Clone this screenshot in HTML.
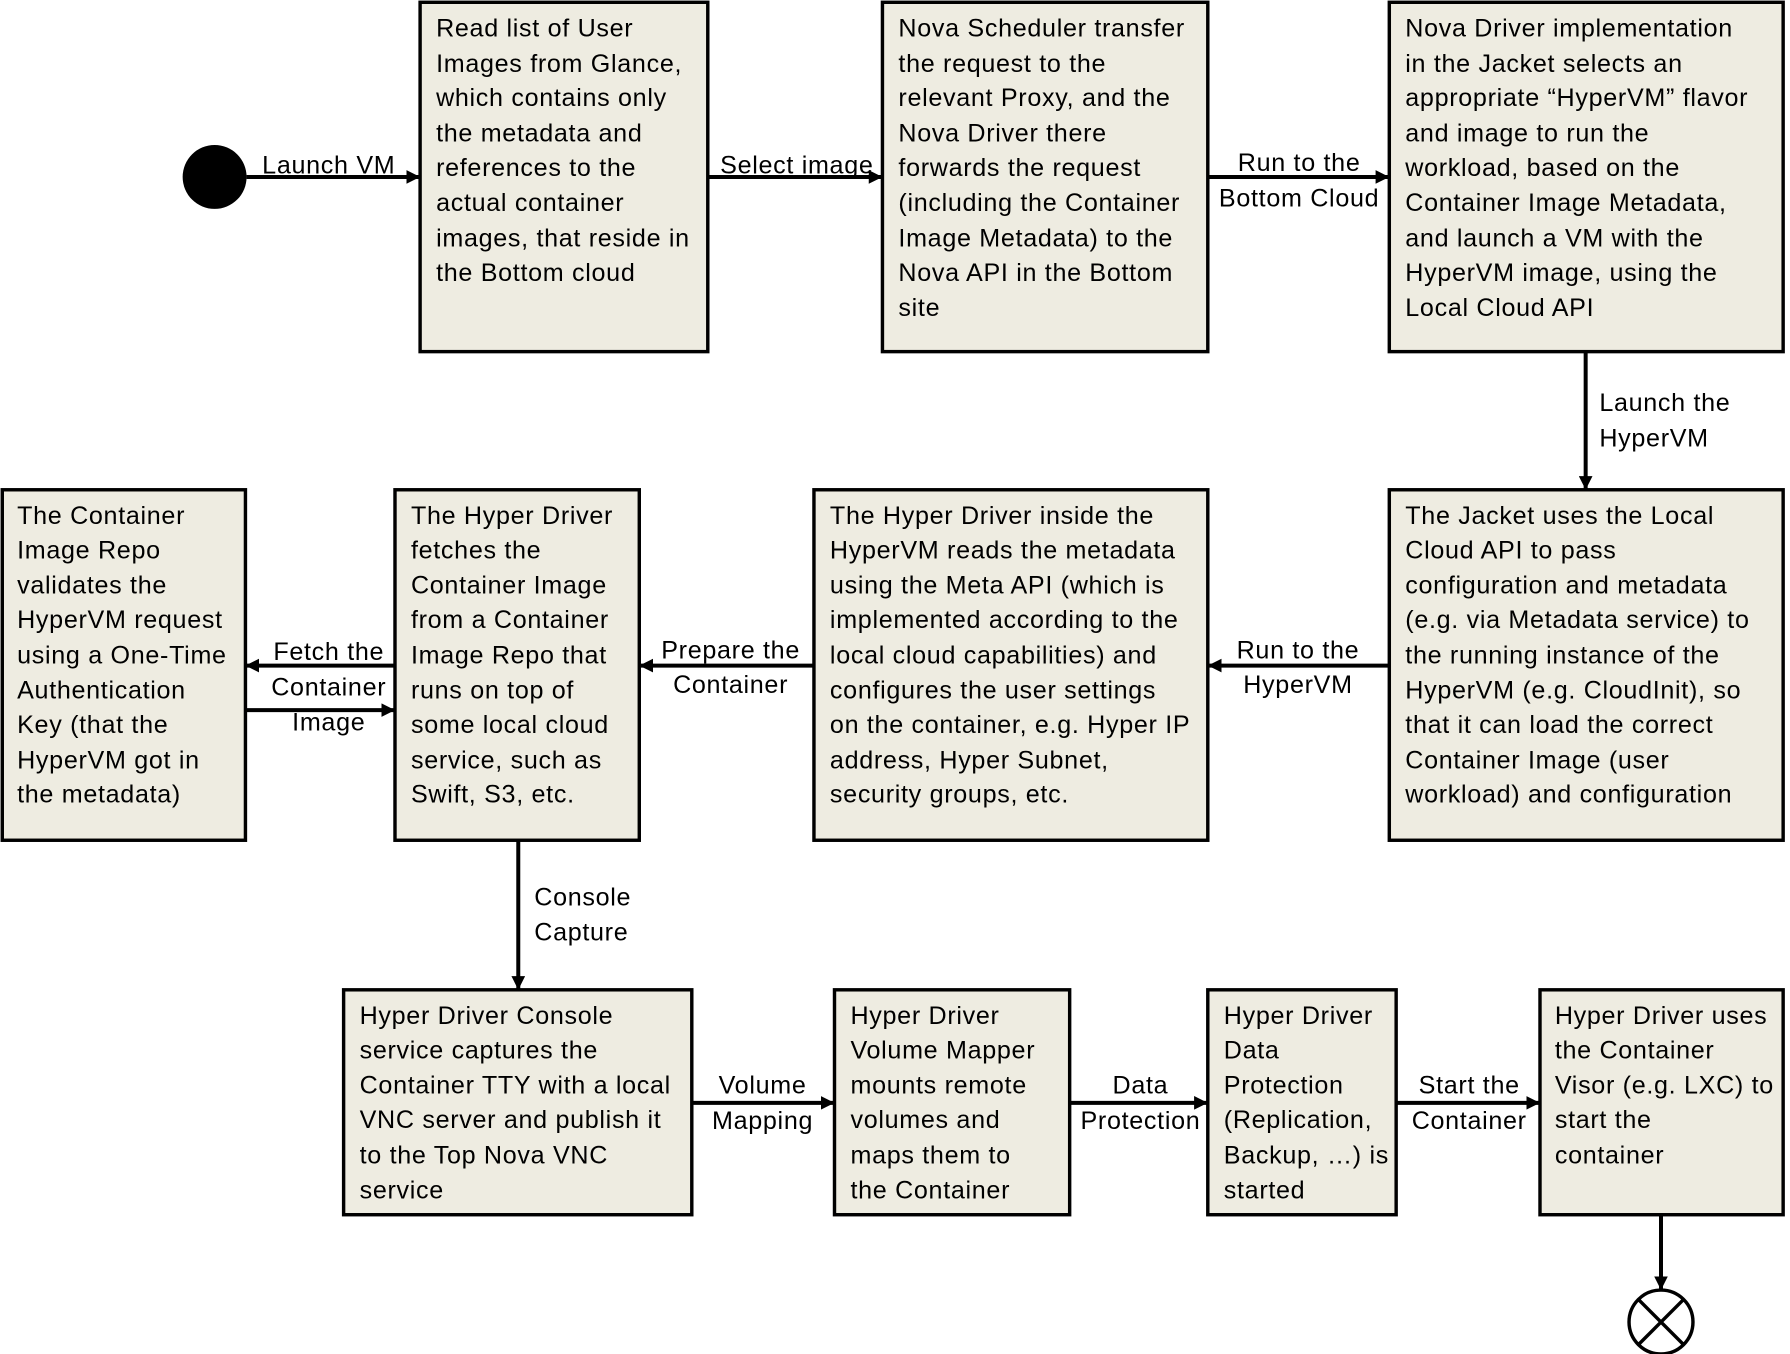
<!DOCTYPE html>
<html><head><meta charset="utf-8"><style>
html,body{margin:0;padding:0;background:#fff;}
svg{display:block;}
text{font-family:"Liberation Sans",sans-serif;font-size:22px;letter-spacing:0.6px;fill:#000;}
.b{fill:#EEECE1;stroke:#000;stroke-width:3;}
.l{stroke:#000;stroke-width:3.5;fill:none;}
.c{text-anchor:middle;}
</style></head><body>
<svg width="1790" height="1354" viewBox="0 0 1568 1186" preserveAspectRatio="none" xmlns="http://www.w3.org/2000/svg">
<defs>
<marker id="a2" markerWidth="12" markerHeight="12" refX="11" refY="6" orient="auto" markerUnits="userSpaceOnUse"><path d="M0,0 L12,6 L0,12 z" fill="#000"/></marker></defs>

<rect class="b" x="368" y="2" width="252" height="306"/>
<rect class="b" x="773" y="2" width="285" height="306"/>
<rect class="b" x="1217" y="2" width="345" height="306"/>
<rect class="b" x="1217" y="429" width="345" height="307"/>
<rect class="b" x="713" y="429" width="345" height="307"/>
<rect class="b" x="346" y="429" width="214" height="307"/>
<rect class="b" x="2" y="429" width="213" height="307"/>
<rect class="b" x="301" y="867" width="305" height="197"/>
<rect class="b" x="731" y="867" width="206" height="197"/>
<rect class="b" x="1058" y="867" width="165" height="197"/>
<rect class="b" x="1349" y="867" width="213" height="197"/>

<circle cx="188" cy="155" r="28" fill="#000"/>
<circle cx="1455" cy="1158" r="28" fill="#fff" stroke="#000" stroke-width="3"/>
<line class="l" x1="1435" y1="1138" x2="1475" y2="1178" style="stroke-width:3"/>
<line class="l" x1="1475" y1="1138" x2="1435" y2="1178" style="stroke-width:3"/>

<line class="l" x1="216" y1="155" x2="367" y2="155" marker-end="url(#a2)"/>
<line class="l" x1="620" y1="155" x2="772" y2="155" marker-end="url(#a2)"/>
<line class="l" x1="1058" y1="155" x2="1216" y2="155" marker-end="url(#a2)"/>
<line class="l" x1="1389" y1="308" x2="1389" y2="428" marker-end="url(#a2)"/>
<line class="l" x1="1217" y1="583" x2="1059" y2="583" marker-end="url(#a2)"/>
<line class="l" x1="713" y1="583" x2="561" y2="583" marker-end="url(#a2)"/>
<line class="l" x1="346" y1="583" x2="216" y2="583" marker-end="url(#a2)"/>
<line class="l" x1="215" y1="622" x2="345" y2="622" marker-end="url(#a2)"/>
<line class="l" x1="454" y1="736" x2="454" y2="866" marker-end="url(#a2)"/>
<line class="l" x1="606" y1="966" x2="730" y2="966" marker-end="url(#a2)"/>
<line class="l" x1="937" y1="966" x2="1057" y2="966" marker-end="url(#a2)"/>
<line class="l" x1="1223" y1="966" x2="1348" y2="966" marker-end="url(#a2)"/>
<line class="l" x1="1455" y1="1064" x2="1455" y2="1129" marker-end="url(#a2)"/>

<text class="c" x="288" y="152">Launch VM</text>
<text class="c" x="698" y="152">Select image</text>
<text class="c" x="1138" y="150">Run to the</text>
<text class="c" x="1138" y="181">Bottom Cloud</text>
<text x="1401" y="360">Launch the</text>
<text x="1401" y="391">HyperVM</text>
<text class="c" x="1137" y="577">Run to the</text>
<text class="c" x="1137" y="607">HyperVM</text>
<text class="c" x="640" y="577">Prepare the</text>
<text class="c" x="640" y="607">Container</text>
<text class="c" x="288" y="578">Fetch the</text>
<text class="c" x="288" y="609">Container</text>
<text class="c" x="288" y="640">Image</text>
<text x="468" y="793">Console</text>
<text x="468" y="824">Capture</text>
<text class="c" x="668" y="958">Volume</text>
<text class="c" x="668" y="989">Mapping</text>
<text class="c" x="999" y="958">Data</text>
<text class="c" x="999" y="989">Protection</text>
<text class="c" x="1287" y="958">Start the</text>
<text class="c" x="1287" y="989">Container</text>

<g>
<text x="382" y="32">Read list of User</text>
<text x="382" y="63">Images from Glance,</text>
<text x="382" y="93">which contains only</text>
<text x="382" y="124">the metadata and</text>
<text x="382" y="154">references to the</text>
<text x="382" y="185">actual container</text>
<text x="382" y="216">images, that reside in</text>
<text x="382" y="246">the Bottom cloud</text>
</g>
<g>
<text x="787" y="32">Nova Scheduler transfer</text>
<text x="787" y="63">the request to the</text>
<text x="787" y="93">relevant Proxy, and the</text>
<text x="787" y="124">Nova Driver there</text>
<text x="787" y="154">forwards the request</text>
<text x="787" y="185">(including the Container</text>
<text x="787" y="216">Image Metadata) to the</text>
<text x="787" y="246">Nova API in the Bottom</text>
<text x="787" y="277">site</text>
</g>
<g>
<text x="1231" y="32">Nova Driver implementation</text>
<text x="1231" y="63">in the Jacket selects an</text>
<text x="1231" y="93">appropriate “HyperVM” flavor</text>
<text x="1231" y="124">and image to run the</text>
<text x="1231" y="154">workload, based on the</text>
<text x="1231" y="185">Container Image Metadata,</text>
<text x="1231" y="216">and launch a VM with the</text>
<text x="1231" y="246">HyperVM image, using the</text>
<text x="1231" y="277">Local Cloud API</text>
</g>
<g>
<text x="1231" y="459">The Jacket uses the Local</text>
<text x="1231" y="489">Cloud API to pass</text>
<text x="1231" y="520">configuration and metadata</text>
<text x="1231" y="550">(e.g. via Metadata service) to</text>
<text x="1231" y="581">the running instance of the</text>
<text x="1231" y="612">HyperVM (e.g. CloudInit), so</text>
<text x="1231" y="642">that it can load the correct</text>
<text x="1231" y="673">Container Image (user</text>
<text x="1231" y="703">workload) and configuration</text>
</g>
<g>
<text x="727" y="459">The Hyper Driver inside the</text>
<text x="727" y="489">HyperVM reads the metadata</text>
<text x="727" y="520">using the Meta API (which is</text>
<text x="727" y="550">implemented according to the</text>
<text x="727" y="581">local cloud capabilities) and</text>
<text x="727" y="612">configures the user settings</text>
<text x="727" y="642">on the container, e.g. Hyper IP</text>
<text x="727" y="673">address, Hyper Subnet,</text>
<text x="727" y="703">security groups, etc.</text>
</g>
<g>
<text x="360" y="459">The Hyper Driver</text>
<text x="360" y="489">fetches the</text>
<text x="360" y="520">Container Image</text>
<text x="360" y="550">from a Container</text>
<text x="360" y="581">Image Repo that</text>
<text x="360" y="612">runs on top of</text>
<text x="360" y="642">some local cloud</text>
<text x="360" y="673">service, such as</text>
<text x="360" y="703">Swift, S3, etc.</text>
</g>
<g>
<text x="15" y="459">The Container</text>
<text x="15" y="489">Image Repo</text>
<text x="15" y="520">validates the</text>
<text x="15" y="550">HyperVM request</text>
<text x="15" y="581">using a One-Time</text>
<text x="15" y="612">Authentication</text>
<text x="15" y="642">Key (that the</text>
<text x="15" y="673">HyperVM got in</text>
<text x="15" y="703">the metadata)</text>
</g>
<g>
<text x="315" y="897">Hyper Driver Console</text>
<text x="315" y="927">service captures the</text>
<text x="315" y="958">Container TTY with a local</text>
<text x="315" y="988">VNC server and publish it</text>
<text x="315" y="1019">to the Top Nova VNC</text>
<text x="315" y="1050">service</text>
</g>
<g>
<text x="745" y="897">Hyper Driver</text>
<text x="745" y="927">Volume Mapper</text>
<text x="745" y="958">mounts remote</text>
<text x="745" y="988">volumes and</text>
<text x="745" y="1019">maps them to</text>
<text x="745" y="1050">the Container</text>
</g>
<g>
<text x="1072" y="897">Hyper Driver</text>
<text x="1072" y="927">Data</text>
<text x="1072" y="958">Protection</text>
<text x="1072" y="988">(Replication,</text>
<text x="1072" y="1019">Backup, …) is</text>
<text x="1072" y="1050">started</text>
</g>
<g>
<text x="1362" y="897">Hyper Driver uses</text>
<text x="1362" y="927">the Container</text>
<text x="1362" y="958">Visor (e.g. LXC) to</text>
<text x="1362" y="988">start the</text>
<text x="1362" y="1019">container</text>
</g>
</svg>
</body></html>
